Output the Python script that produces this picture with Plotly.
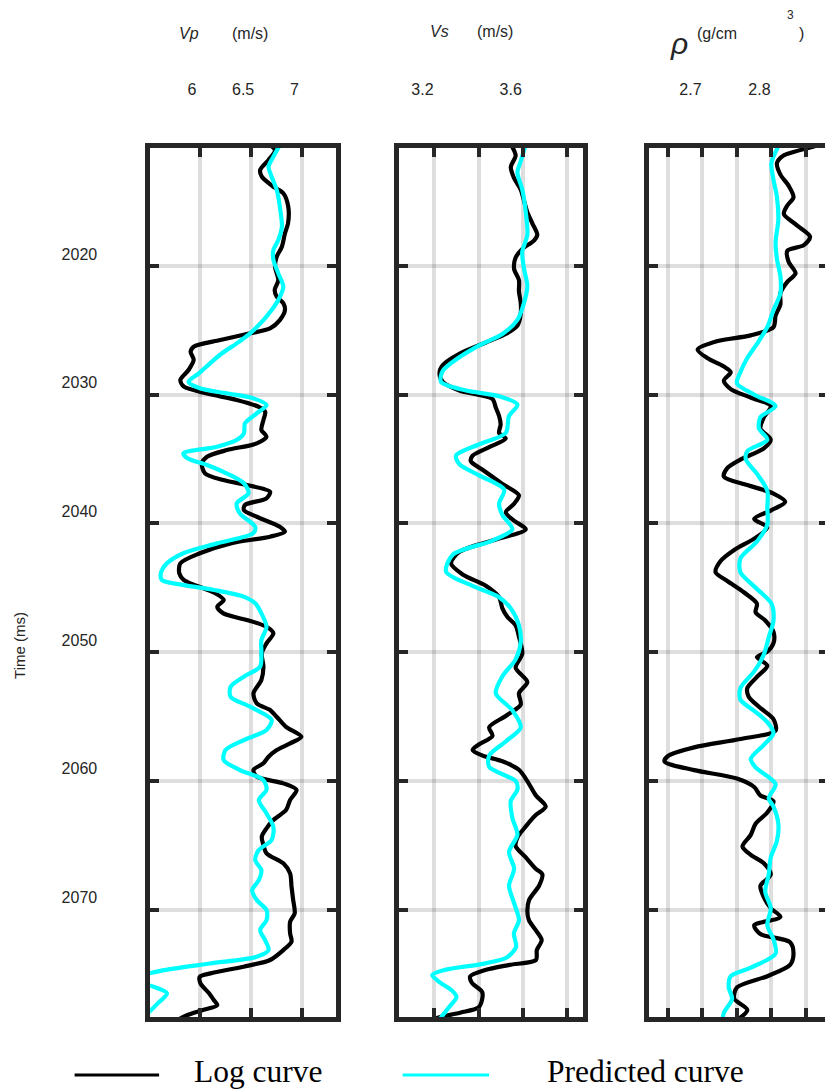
import plotly.graph_objects as go

# ---------------- data ----------------
vp_log_t = [2010.6, 2011.0, 2011.76, 2012.54, 2013.06, 2013.84, 2014.35, 2015.39, 2016.68, 2017.46,
            2018.5, 2019.28, 2020.05, 2021.09, 2021.86, 2022.38, 2022.9, 2023.42, 2024.2, 2024.84,
            2025.23, 2025.75, 2026.27, 2026.66, 2027.3, 2028.08, 2028.86, 2029.38, 2029.9, 2030.41,
            2030.93, 2031.32, 2031.97, 2032.74, 2033.26, 2033.78, 2034.3, 2034.82, 2035.33, 2036.11,
            2036.63, 2037.02, 2037.54, 2038.05, 2038.57, 2038.96, 2039.48, 2040.26, 2040.64, 2041.03,
            2041.55, 2042.32, 2043.1, 2043.88, 2044.4, 2045.43, 2045.95, 2046.47, 2046.99, 2047.51,
            2048.03, 2048.54, 2049.32, 2050.09, 2051.13, 2052.17, 2053.2, 2053.98, 2054.5, 2055.02,
            2055.8, 2056.57, 2057.09, 2057.61, 2058.13, 2058.64, 2059.16, 2059.68, 2060.2, 2060.71,
            2061.49, 2062.27, 2063.05, 2063.69, 2064.34, 2064.99, 2065.63, 2066.41, 2067.19, 2068.23,
            2069.26, 2070.3, 2070.95, 2071.85, 2072.5, 2073.15, 2073.92, 2074.44, 2074.96, 2075.22,
            2075.74, 2076.51, 2077.03, 2077.42, 2077.81, 2078.2, 2078.59]
vp_log = [6.685, 6.733, 6.67, 6.588, 6.604, 6.717, 6.814, 6.862, 6.86, 6.83,
          6.80, 6.749, 6.733, 6.765, 6.73, 6.75, 6.814, 6.83, 6.78, 6.685,
          6.49, 6.20, 5.94, 5.91, 5.94, 5.89, 5.81, 5.845, 6.07, 6.36,
          6.57, 6.637, 6.62, 6.60, 6.65, 6.555, 6.265, 6.07, 6.02, 6.05,
          6.23, 6.46, 6.685, 6.65, 6.44, 6.43, 6.555, 6.78, 6.83, 6.685,
          6.30, 6.00, 5.81, 5.80, 5.845, 6.152, 6.233, 6.17, 6.23, 6.46,
          6.65, 6.717, 6.65, 6.604, 6.62, 6.60, 6.523, 6.555, 6.685, 6.749,
          6.84, 6.99, 6.88, 6.75, 6.67, 6.62, 6.523, 6.555, 6.814, 6.943,
          6.88, 6.84, 6.717, 6.65, 6.604, 6.62, 6.65, 6.814, 6.88, 6.894,
          6.91, 6.925, 6.88, 6.88, 6.894, 6.814, 6.685, 6.426, 6.104, 6.0,
          6.006, 6.09, 6.136, 6.17, 6.03, 5.88, 5.78]

vp_pred_t = [2010.6, 2011.51, 2012.28, 2013.06, 2014.09, 2015.39, 2016.95, 2017.98, 2018.76, 2019.53,
             2020.57, 2021.61, 2022.64, 2023.42, 2024.2, 2025.23, 2026.01, 2026.78, 2027.56, 2028.34,
             2028.99, 2029.5, 2029.89, 2030.28, 2030.8, 2031.45, 2032.22, 2033.0, 2033.52, 2034.04,
             2034.55, 2034.94, 2035.46, 2036.11, 2036.88, 2037.66, 2038.44, 2039.22, 2040.26, 2040.77,
             2041.55, 2042.32, 2043.1, 2043.88, 2044.4, 2044.79, 2045.17, 2045.69, 2046.21, 2046.99,
             2048.03, 2049.07, 2050.09, 2051.13, 2051.91, 2052.69, 2053.47, 2054.24, 2055.27, 2056.05,
             2056.83, 2057.61, 2058.39, 2059.16, 2059.94, 2060.71, 2061.49, 2062.53, 2063.57, 2064.6,
             2065.38, 2066.16, 2066.94, 2067.72, 2068.49, 2069.26, 2070.04, 2070.82, 2071.6, 2072.37,
             2073.15, 2073.67, 2074.19, 2074.71, 2075.22, 2075.48, 2075.87, 2076.51, 2077.29, 2078.07,
             2078.59]
vp_pred = [6.78, 6.717, 6.67, 6.70, 6.75, 6.78, 6.80, 6.765, 6.717, 6.717,
           6.765, 6.814, 6.765, 6.70, 6.62, 6.49, 6.36, 6.216, 6.10, 5.99,
           5.89, 6.0, 6.26, 6.52, 6.65, 6.555, 6.44, 6.43, 6.36, 6.167,
           5.84, 5.88, 6.07, 6.26, 6.43, 6.475, 6.36, 6.39, 6.54, 6.52,
           6.167, 5.84, 5.68, 5.62, 5.63, 5.845, 6.136, 6.426, 6.54, 6.60,
           6.65, 6.60, 6.60, 6.588, 6.43, 6.30, 6.30, 6.49, 6.70, 6.65,
           6.43, 6.25, 6.233, 6.39, 6.62, 6.65, 6.575, 6.65, 6.717, 6.70,
           6.575, 6.54, 6.60, 6.575, 6.51, 6.555, 6.65, 6.65, 6.588, 6.636,
           6.67, 6.555, 6.10, 5.65, 5.40, 5.35, 5.50, 5.68, 5.59, 5.49,
           5.40]

vs_log_t = [2010.55, 2011.42, 2012.3, 2013.18, 2014.06, 2014.94, 2015.82, 2016.7, 2017.58, 2018.02,
            2018.68, 2019.34, 2020.22, 2021.1, 2021.98, 2022.86, 2023.74, 2024.62, 2025.28, 2025.94,
            2026.82, 2027.7, 2028.36, 2029.0, 2029.67, 2030.33, 2031.0, 2031.65, 2032.31, 2032.97,
            2033.41, 2034.07, 2034.73, 2035.17, 2035.83, 2036.93, 2037.81, 2038.47, 2039.13, 2039.79,
            2040.45, 2041.33, 2042.21, 2043.09, 2043.97, 2044.85, 2045.73, 2046.6, 2047.27, 2047.92,
            2048.8, 2050.12, 2051.22, 2052.32, 2053.2, 2054.08, 2054.96, 2055.84, 2056.5, 2057.16,
            2057.6, 2058.04, 2058.48, 2059.14, 2060.02, 2061.12, 2062.0, 2062.66, 2063.54, 2064.41,
            2065.07, 2065.95, 2066.83, 2067.27, 2068.15, 2069.25, 2070.13, 2070.82, 2071.6, 2072.37,
            2073.15, 2073.92, 2074.3, 2074.7, 2075.2, 2075.7, 2076.4, 2077.0, 2077.6, 2078.0,
            2078.35, 2078.55]
vs_log = [3.546, 3.568, 3.546, 3.561, 3.591, 3.606, 3.621, 3.644, 3.666, 3.651,
          3.598, 3.568, 3.561, 3.583, 3.583, 3.591, 3.591, 3.576, 3.523, 3.433,
          3.313, 3.238, 3.223, 3.238, 3.313, 3.463, 3.478, 3.493, 3.50, 3.493,
          3.523, 3.448, 3.373, 3.365, 3.418, 3.508, 3.583, 3.561, 3.523, 3.561,
          3.614, 3.463, 3.313, 3.275, 3.328, 3.433, 3.493, 3.508, 3.531, 3.568,
          3.583, 3.598, 3.568, 3.621, 3.583, 3.591, 3.523, 3.448, 3.463, 3.403,
          3.373, 3.418, 3.508, 3.583, 3.621, 3.659, 3.704, 3.659, 3.614, 3.576,
          3.568, 3.614, 3.659, 3.689, 3.674, 3.629, 3.621, 3.628, 3.659, 3.686,
          3.664, 3.66, 3.54, 3.43, 3.362, 3.37, 3.416, 3.416, 3.40, 3.32,
          3.227, 3.19]

vs_pred_t = [2010.55, 2011.86, 2012.74, 2014.06, 2015.82, 2017.58, 2018.9, 2020.22, 2021.54, 2022.86,
             2024.18, 2025.28, 2026.16, 2027.26, 2028.14, 2029.0, 2029.67, 2030.11, 2030.77, 2031.65,
             2032.97, 2033.85, 2034.73, 2035.39, 2036.27, 2037.37, 2038.47, 2039.35, 2040.45, 2041.33,
             2042.43, 2043.75, 2044.85, 2045.73, 2046.6, 2047.92, 2049.24, 2050.56, 2051.88, 2053.2,
             2054.52, 2055.84, 2056.94, 2058.04, 2058.92, 2060.02, 2060.68, 2061.56, 2062.88, 2064.19,
             2065.51, 2066.83, 2068.15, 2069.5, 2070.82, 2071.85, 2072.9, 2073.7, 2074.2, 2074.7,
             2075.1, 2075.6, 2076.3, 2076.8, 2077.6, 2078.55]
vs_pred = [3.614, 3.591, 3.576, 3.598, 3.614, 3.621, 3.598, 3.606, 3.621, 3.606,
           3.576, 3.508, 3.403, 3.298, 3.238, 3.23, 3.343, 3.493, 3.576, 3.538,
           3.523, 3.403, 3.298, 3.313, 3.403, 3.516, 3.493, 3.508, 3.553, 3.463,
           3.283, 3.253, 3.373, 3.493, 3.546, 3.583, 3.591, 3.568, 3.508, 3.478,
           3.553, 3.591, 3.523, 3.448, 3.448, 3.568, 3.576, 3.546, 3.553, 3.576,
           3.538, 3.561, 3.538, 3.561, 3.583, 3.56, 3.57, 3.53, 3.425, 3.245,
           3.19, 3.22, 3.28, 3.30, 3.266, 3.222]

rho_log_t = [2010.7, 2011.14, 2011.4, 2012.0, 2012.9, 2013.77, 2014.65, 2015.3, 2015.96, 2016.84,
             2017.72, 2018.38, 2018.82, 2019.69, 2020.57, 2021.23, 2022.1, 2022.98, 2023.86, 2024.74,
             2025.39, 2025.83, 2026.49, 2027.15, 2027.81, 2028.25, 2028.9, 2029.56, 2030.22, 2030.88,
             2031.75, 2032.63, 2033.5, 2034.17, 2035.04, 2035.7, 2036.36, 2037.02, 2037.68, 2038.33,
             2039.0, 2039.65, 2040.3, 2041.18, 2042.06, 2042.94, 2043.8, 2044.47, 2045.35, 2046.23,
             2046.9, 2047.54, 2048.42, 2049.3, 2049.96, 2050.39, 2051.05, 2051.93, 2052.8, 2053.46,
             2054.34, 2055.22, 2056.1, 2056.75, 2057.4, 2058.07, 2058.5, 2059.17, 2059.82, 2060.48,
             2061.14, 2061.58, 2062.46, 2063.33, 2064.2, 2065.1, 2065.75, 2066.4, 2067.28, 2068.16,
             2069.04, 2069.9, 2070.57, 2071.23, 2071.9, 2072.54, 2073.42, 2074.3, 2075.18, 2076.05,
             2076.93, 2077.8, 2078.6]
rho_log = [2.863, 2.832, 2.818, 2.808, 2.813, 2.825, 2.832, 2.823, 2.818, 2.837,
           2.856, 2.847, 2.823, 2.825, 2.835, 2.823, 2.813, 2.813, 2.806, 2.803,
           2.77, 2.722, 2.693, 2.707, 2.731, 2.741, 2.731, 2.741, 2.77, 2.799,
           2.789, 2.784, 2.799, 2.789, 2.755, 2.736, 2.731, 2.765, 2.803, 2.82,
           2.799, 2.775, 2.794, 2.775, 2.746, 2.726, 2.719, 2.736, 2.76, 2.779,
           2.777, 2.791, 2.803, 2.803, 2.794, 2.779, 2.794, 2.779, 2.765, 2.767,
           2.784, 2.803, 2.806, 2.755, 2.688, 2.65, 2.645, 2.688, 2.75, 2.775,
           2.784, 2.803, 2.794, 2.777, 2.77, 2.758, 2.77, 2.789, 2.799, 2.784,
           2.789, 2.799, 2.813, 2.775, 2.784, 2.827, 2.832, 2.827, 2.794, 2.75,
           2.746, 2.765, 2.75]

rho_pred_t = [2010.7, 2012.0, 2013.3, 2014.65, 2016.4, 2018.16, 2019.47, 2020.8, 2022.1, 2023.42,
              2024.74, 2026.05, 2027.15, 2028.25, 2029.12, 2030.0, 2030.88, 2031.75, 2032.63, 2033.5,
              2034.39, 2035.04, 2036.14, 2037.46, 2038.77, 2040.09, 2041.4, 2042.72, 2043.8, 2044.9,
              2046.23, 2047.54, 2048.86, 2050.18, 2051.5, 2052.8, 2053.7, 2054.56, 2055.44, 2056.3,
              2057.2, 2058.3, 2058.95, 2060.26, 2061.36, 2062.0, 2063.33, 2064.65, 2065.96, 2067.28,
              2068.6, 2069.9, 2071.23, 2072.32, 2073.42, 2074.52, 2075.18, 2076.05, 2076.93, 2078.03,
              2078.6]
rho_pred = [2.81, 2.80, 2.803, 2.808, 2.81, 2.806, 2.808, 2.813, 2.813, 2.803,
            2.794, 2.779, 2.765, 2.755, 2.75, 2.775, 2.806, 2.784, 2.782, 2.794,
            2.765, 2.763, 2.779, 2.794, 2.794, 2.794, 2.779, 2.755, 2.755, 2.775,
            2.80, 2.803, 2.796, 2.789, 2.775, 2.755, 2.755, 2.775, 2.794, 2.803,
            2.789, 2.77, 2.777, 2.806, 2.796, 2.803, 2.81, 2.808, 2.799, 2.796,
            2.791, 2.799, 2.794, 2.803, 2.806, 2.77, 2.741, 2.738, 2.743, 2.731,
            2.729]

time_ticks = [2020, 2030, 2040, 2050, 2060, 2070]
vp_ticks = [6, 6.5, 7]
vp_ticktext = ["6", "6.5", "7"]
vs_ticks = [3.2, 3.4, 3.6, 3.8]
vs_ticktext = ["3.2", "", "3.6", ""]
rho_ticks = [2.65, 2.7, 2.75, 2.8, 2.85]
rho_ticktext = ["", "2.7", "", "2.8", ""]

series_names = ["Log curve", "Predicted curve"]

# ---------------- figure ----------------
# the page body has an 8px margin; the figure is sized so it ends at the window edge
OFF = 8
W, H = 833 - OFF, 1091 - OFF

def px(x):
    return (x - OFF) / W

def py(y):
    return 1 - (y - OFF) / H

LOG_COLOR = "#000000"
PRED_COLOR = "#00FFFF"
FRAME = "#262626"
GRID = "rgba(0,0,0,0.13)"

fig = go.Figure()

panels = [
    ("x", "y", vp_log_t, vp_log, vp_pred_t, vp_pred),
    ("x2", "y2", vs_log_t, vs_log, vs_pred_t, vs_pred),
    ("x3", "y3", rho_log_t, rho_log, rho_pred_t, rho_pred),
]
for xa, ya, lt, lv, pt, pv in panels:
    fig.add_trace(go.Scatter(x=lv, y=lt, mode="lines", xaxis=xa, yaxis=ya,
                             line=dict(color=LOG_COLOR, width=4.2, shape="spline", smoothing=0.8),
                             name=series_names[0], showlegend=False))
    fig.add_trace(go.Scatter(x=pv, y=pt, mode="lines", xaxis=xa, yaxis=ya,
                             line=dict(color=PRED_COLOR, width=4.2, shape="spline", smoothing=0.8),
                             name=series_names[1], showlegend=False))

y_dom = [py(1017), py(148)]
y_range = [2078.35, 2010.83]
tickfont = dict(family="Liberation Sans, Arial, sans-serif", size=16, color="#262626")

def xaxis_cfg(domain, rng, tickvals, ticktext, shift, anchor):
    return dict(domain=domain, range=rng, side="top", tickvals=tickvals, ticktext=ticktext,
                anchor=anchor,
                showgrid=True, gridcolor=GRID, gridwidth=3.5, zeroline=False,
                showline=True, linecolor=FRAME, linewidth=4.5, mirror="ticks",
                ticks="inside", ticklen=9, tickwidth=3.5, tickcolor=FRAME,
                tickfont=tickfont, ticklabelstandoff=42, ticklabelshift=shift, fixedrange=True)

def yaxis_cfg(anchor, labels):
    return dict(domain=y_dom, range=y_range, anchor=anchor, tickvals=time_ticks,
                showticklabels=labels, showgrid=True, gridcolor=GRID, gridwidth=3.5,
                zeroline=False, showline=True, linecolor=FRAME, linewidth=4.5, mirror="ticks",
                ticks="inside", ticklen=9, tickwidth=3.5, tickcolor=FRAME,
                tickfont=tickfont, ticklabelstandoff=45, ticklabelshift=12, fixedrange=True)

fig.update_layout(
    width=W, height=H,
    margin=dict(l=0, r=0, t=0, b=0),
    paper_bgcolor="white", plot_bgcolor="white",
    xaxis=xaxis_cfg([px(151), px(337.5)], [5.5155, 7.3227], vp_ticks, vp_ticktext, -8, "y"),
    xaxis2=xaxis_cfg([px(401.7), px(586.7)], [3.041, 3.874], vs_ticks, vs_ticktext, -12, "y2"),
    xaxis3=xaxis_cfg([px(652.7), 1.0], [2.6222, 2.882], rho_ticks, rho_ticktext, -12, "y3"),
    yaxis=yaxis_cfg("x", True),
    yaxis2=yaxis_cfg("x2", False),
    yaxis3=yaxis_cfg("x3", False),
    showlegend=False,
)

sans = "Liberation Sans, Arial, sans-serif"
serif = "Liberation Serif, Times New Roman, serif"

def px_ann(text, x, y, size, family=sans, italic=False, color="#262626", xanchor="center"):
    fig.add_annotation(text=f"<i>{text}</i>" if italic else text, x=px(x), y=py(y),
                       xref="paper", yref="paper", showarrow=False, xanchor=xanchor,
                       yanchor="middle", font=dict(family=family, size=size, color=color))

# headers
px_ann("Vp", 190, 33, 16, italic=True)
px_ann("(m/s)", 251, 33, 16)
px_ann("Vs", 442, 31, 16, italic=True)
px_ann("(m/s)", 498, 31, 16)
px_ann("ρ", 683, 43, 30, italic=True)
px_ann("(g/cm", 721, 33, 16)
px_ann("3", 795, 15, 12)
px_ann(")", 806, 33, 16)

# y label
fig.add_annotation(text="Time (ms)", x=px(19), y=py(645), xref="paper", yref="paper",
                   xanchor="center", yanchor="middle",
                   showarrow=False, textangle=-90, font=dict(family=sans, size=15, color="#262626"))

# legend (drawn manually)
ly = py(1075)
fig.add_shape(type="line", xref="paper", yref="paper", x0=px(75), x1=px(160), y0=ly, y1=ly,
              line=dict(color=LOG_COLOR, width=3))
fig.add_shape(type="line", xref="paper", yref="paper", x0=px(405), x1=px(492), y0=ly, y1=ly,
              line=dict(color=PRED_COLOR, width=3))
px_ann(series_names[0], 193, 1071, 31.5, family=serif, color="#000000", xanchor="left")
px_ann(series_names[1], 548, 1071, 31.5, family=serif, color="#000000", xanchor="left")

fig.write_html("out.html")
